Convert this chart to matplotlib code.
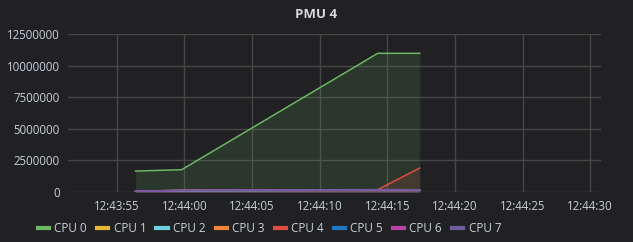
import datetime as dt
import matplotlib
matplotlib.use("Agg")
import matplotlib.pyplot as plt
import matplotlib.dates as mdates
from matplotlib.ticker import FuncFormatter, MultipleLocator

plt.rcParams['font.family'] = ['Open Sans', 'DejaVu Sans']

base = dt.datetime(2024, 1, 1, 12, 43, 0)

def t(s):
    return base + dt.timedelta(seconds=s)

# sample times (seconds after 12:43:00)
tiempos = [56.4, 59.8, 74.3, 77.4]

series = ["CPU 0", "CPU 1", "CPU 2", "CPU 3", "CPU 4", "CPU 5", "CPU 6", "CPU 7"]
colores = ["#6DB862", "#EAB839", "#6ED0E0", "#EF843C", "#E24D42", "#1F78C1", "#BA43A9", "#705DA0"]

cpu0 = [1660000, 1760000, 10970000, 10970000]
cpu1 = [40000, 120000, 160000, 150000]
cpu2 = [40000, 110000, 150000, 140000]
cpu3 = [50000, 130000, 170000, 160000]
cpu4 = [60000, 140000, 180000, 1900000]
cpu5 = [40000, 110000, 150000, 150000]
cpu6 = [50000, 120000, 170000, 160000]
cpu7 = [60000, 140000, 190000, 180000]
valores = [cpu0, cpu1, cpu2, cpu3, cpu4, cpu5, cpu6, cpu7]

fondo = "#212124"
texto = "#c7d0d9"
rejilla = "#464646"

fig = plt.figure(figsize=(6.33, 2.42), dpi=100, facecolor=fondo)
ax = fig.add_axes([0.1074, 0.2066, 0.842, 0.653])
ax.set_facecolor(fondo)

x = [t(s) for s in tiempos]
for nombre, col, vals in zip(series, colores, valores):
    ax.fill_between(x, 0, vals, color=col, alpha=0.14, linewidth=0)
    ax.plot(x, vals, color=col, linewidth=1.1, label=nombre)

ax.set_xlim(t(51.4), t(90.8))
ax.set_ylim(0, 12500000)
ax.xaxis.set_major_locator(mdates.SecondLocator(bysecond=range(0, 60, 5)))
ax.xaxis.set_major_formatter(mdates.DateFormatter("%H:%M:%S"))
ax.yaxis.set_major_locator(MultipleLocator(2500000))
ax.yaxis.set_major_formatter(FuncFormatter(lambda v, p: "%d" % v))

ax.grid(True, color=rejilla, linewidth=1)
ax.set_axisbelow(True)
for s in ax.spines.values():
    s.set_visible(False)
ax.tick_params(axis="both", length=0, colors=texto, labelsize=8.3)
ax.tick_params(axis="y", pad=6)
ax.tick_params(axis="x", pad=6)

fig.text(0.5, 0.94, "PMU 4", color="#d8d9da", fontsize=9.5, fontweight="bold",
         ha="center", va="center")

leg = fig.legend(loc="center left", bbox_to_anchor=(0.043, 0.057), ncol=8, frameon=False,
                 handlelength=0.95, handletextpad=0.45, columnspacing=0.85,
                 prop={"size": 8.5})
for h in leg.legend_handles:
    h.set_linewidth(3)
for txt in leg.get_texts():
    txt.set_color(texto)

fig.savefig("out.png", dpi=100, facecolor=fondo)
